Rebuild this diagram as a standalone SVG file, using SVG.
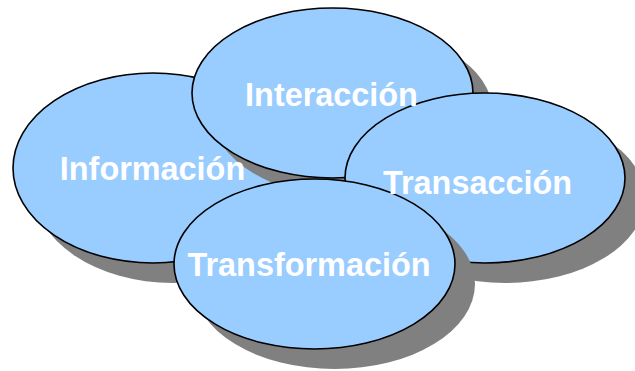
<svg xmlns="http://www.w3.org/2000/svg" width="635" height="371" viewBox="0 0 635 371">
  <style>
    .shadow { fill: #808080; stroke: none; }
    .node { fill: #99ccff; stroke: #000000; stroke-width: 1.6; }
    .label { fill: #ffffff; font-family: "Liberation Sans", Arial, sans-serif; font-weight: bold; font-size: 32.4px; text-anchor: middle; }
  </style>
  <rect width="635" height="371" fill="#ffffff"/>
  <g id="node-informacion">
    <ellipse class="shadow" cx="173" cy="188" rx="140" ry="95"/>
    <ellipse class="node" cx="153" cy="168" rx="140" ry="95"/>
  </g>
  <g id="node-interaccion">
    <ellipse class="shadow" cx="352.5" cy="113" rx="140.5" ry="85"/>
    <ellipse class="node" cx="332.5" cy="93" rx="140.5" ry="85"/>
  </g>
  <g id="node-transaccion">
    <ellipse class="shadow" cx="505" cy="198" rx="140" ry="85"/>
    <ellipse class="node" cx="485" cy="178" rx="140" ry="85"/>
  </g>
  <g id="node-transformacion">
    <ellipse class="shadow" cx="334.5" cy="284" rx="140.5" ry="85"/>
    <ellipse class="node" cx="314.5" cy="264" rx="140.5" ry="85"/>
  </g>
  <g id="labels">
    <text id="label-informacion" class="label" x="152.5" y="180">Información</text>
    <text id="label-interaccion" class="label" x="331.5" y="106">Interacción</text>
    <text id="label-transaccion" class="label" x="477.5" y="194">Transacción</text>
    <text id="label-transformacion" class="label" x="309" y="276">Transformación</text>
  </g>
</svg>
